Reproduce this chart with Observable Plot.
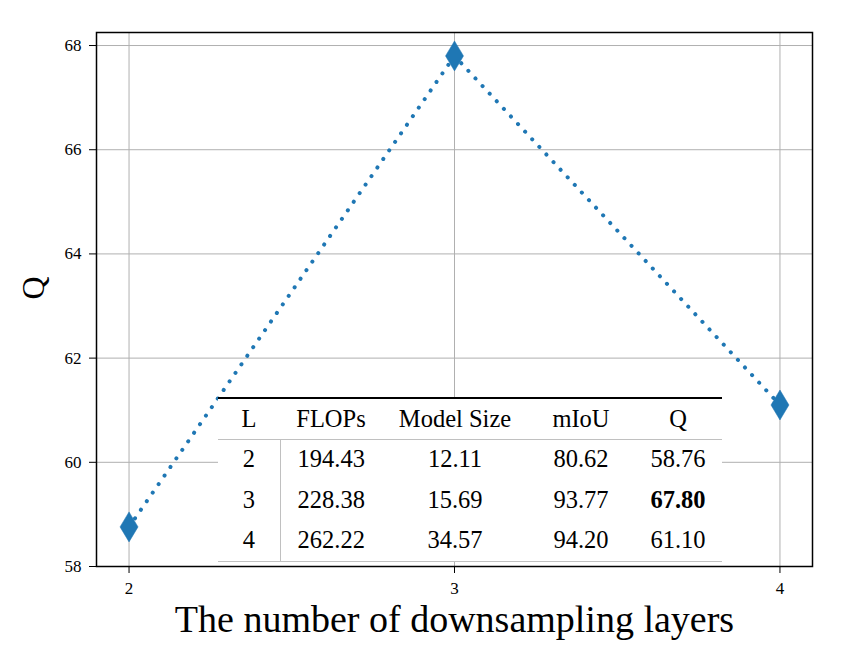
<!DOCTYPE html>
<html>
<head>
<meta charset="utf-8">
<script src="https://cdn.jsdelivr.net/npm/d3@7"></script>
<script src="https://cdn.jsdelivr.net/npm/@observablehq/plot@0.6"></script>
<style>
  body { margin: 0; background: white; }
  #wrap { position: relative; width: 861px; height: 652px; font-family: "Liberation Serif", "Times New Roman", serif; }
  #wrap svg text { font-family: "Liberation Serif", "Times New Roman", serif; }
  #tbl { position: absolute; left: 218px; top: 397px; width: 504px; background: white;
         border-top: 2.5px solid black; border-bottom: 1px solid #c0c0c0; border-collapse: collapse;
         font-family: "Liberation Serif", serif; font-size: 24.5px; color: black; }
  #tbl td, #tbl th { text-align: center; padding: 0; font-weight: normal; line-height: 1; }
  #tbl thead tr { height: 41px; }
  #tbl tbody tr { height: 40.7px; }
  #tbl thead th { border-bottom: 1px solid #c0c0c0; }
  #tbl tbody td:first-child { border-right: 1px solid #c0c0c0; }
</style>
</head>
<body>
<div id="wrap"></div>
<script>
// ---- data ----
const layers = [2, 3, 4];
const qValues = [58.76, 67.80, 61.10];
const xTicks = [2, 3, 4];
const yTicks = [58, 60, 62, 64, 66, 68];
const tableHeader = ["L", "FLOPs", "Model Size", "mIoU", "Q"];
const flops = ["194.43", "228.38", "262.22"];
const modelSize = ["12.11", "15.69", "34.57"];
const miou = ["80.62", "93.77", "94.20"];
const qText = ["58.76", "67.80", "61.10"];
const bestIndex = 1;
const xLabel = "The number of downsampling layers";
const yLabel = "Q";

const data = layers.map((l, i) => ({l, q: qValues[i]}));
const blue = "#1f77b4";

const thinDiamond = {
  draw(ctx, size) {
    const r = Math.sqrt(size / Math.PI);
    ctx.moveTo(0, -r);
    ctx.lineTo(0.6 * r, 0);
    ctx.lineTo(0, r);
    ctx.lineTo(-0.6 * r, 0);
    ctx.closePath();
  }
};

const serif = "Liberation Serif";
const chart = Plot.plot({
  width: 861,
  height: 652,
  marginLeft: 96,
  marginRight: 49,
  marginTop: 32,
  marginBottom: 86,
  style: {fontFamily: serif, color: "black", background: "white"},
  x: {domain: [1.9, 4.1]},
  y: {domain: [58, 68.25]},
  marks: [
    Plot.gridX(xTicks, {stroke: "#b0b0b0", strokeOpacity: 1, strokeWidth: 1}),
    Plot.gridY(yTicks, {stroke: "#b0b0b0", strokeOpacity: 1, strokeWidth: 1}),
    Plot.axisX(xTicks, {tickSize: 7, tickPadding: 8, fontSize: 17, label: null, tickFormat: d3.format("d")}),
    Plot.axisY(yTicks, {tickSize: 7, tickPadding: 8, fontSize: 17, label: null, tickFormat: d3.format("d")}),
    Plot.line(data, {x: "l", y: "q", stroke: blue, strokeWidth: 4, strokeDasharray: "0.1,10.3", strokeLinecap: "round"}),
    Plot.dot(data, {x: "l", y: "q", r: 15, symbol: thinDiamond, fill: blue, stroke: blue, strokeWidth: 0.5}),
    Plot.frame({stroke: "black", strokeWidth: 1.5}),
    Plot.text([xLabel], {frameAnchor: "bottom", dy: 65, fontSize: 38, fill: "black"}),
    Plot.text([yLabel], {frameAnchor: "left", dx: -63, rotate: -90, fontSize: 32, fill: "black"})
  ]
});
const wrap = document.getElementById("wrap");
wrap.appendChild(chart);

// ---- table overlay ----
const widths = [62, 102, 146, 106, 88];
let html = '<table id="tbl"><colgroup>' + widths.map(w => `<col style="width:${w}px">`).join("") + '</colgroup>';
html += '<thead><tr>' + tableHeader.map(h => `<th>${h}</th>`).join("") + '</tr></thead><tbody>';
layers.forEach((l, i) => {
  const q = i === bestIndex ? `<b>${qText[i]}</b>` : qText[i];
  html += `<tr><td>${l}</td><td>${flops[i]}</td><td>${modelSize[i]}</td><td>${miou[i]}</td><td>${q}</td></tr>`;
});
html += '</tbody></table>';
wrap.insertAdjacentHTML("beforeend", html);
</script>
</body>
</html>
